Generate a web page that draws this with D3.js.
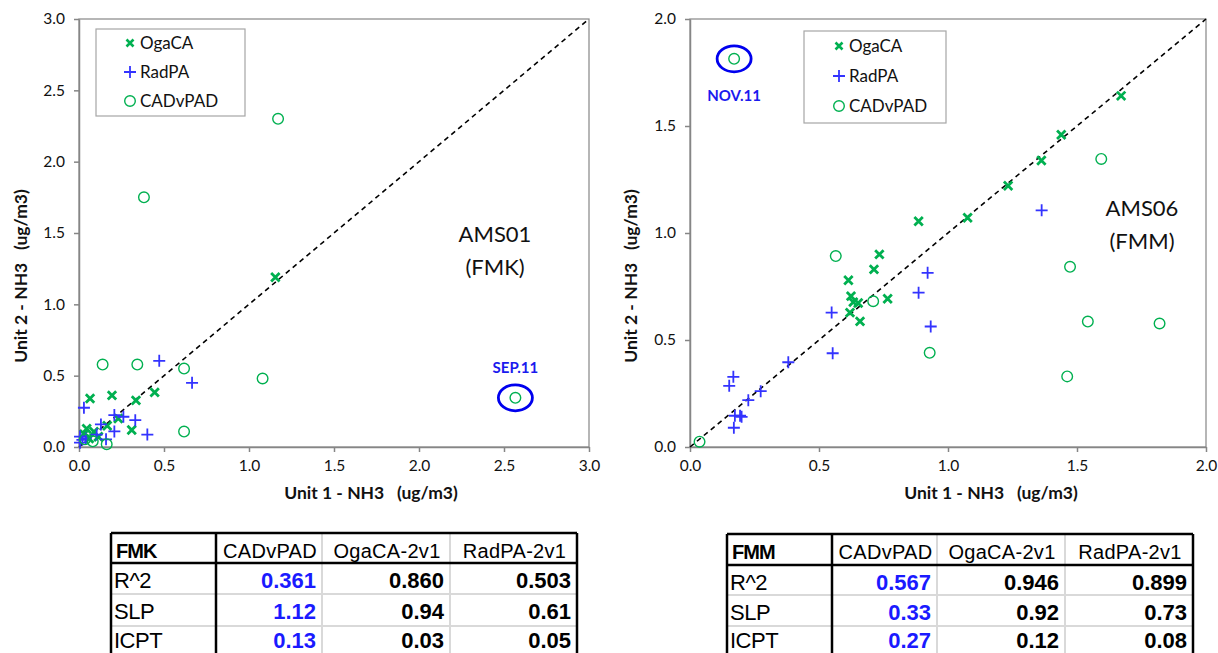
<!DOCTYPE html>
<html><head><meta charset="utf-8">
<script src="https://cdn.jsdelivr.net/npm/d3@7"></script>
<style>
body{margin:0;background:#fff;}
svg{display:block;}
</style></head>
<body><svg id="c" width="1218" height="653"></svg>
<script>
// ---------- DATA ----------
// FMK (AMS01) : [Unit 1, Unit 2]
const fmkOgaCA = [[0.065,0.34],[0.194,0.362],[0.335,0.327],[0.445,0.383],[0.231,0.20],[0.166,0.149],[0.045,0.128],[0.088,0.107],[0.31,0.119],[0.114,0.072],[0.03,0.09],[0.06,0.06],[1.155,1.19]];
const fmkRadPA = [[0.472,0.604],[0.665,0.45],[0.029,0.275],[0.208,0.224],[0.261,0.212],[0.331,0.188],[0.129,0.158],[0.208,0.109],[0.402,0.087],[0.104,0.087],[0.159,0.054],[0.006,0.073],[0.006,0.03],[0.02,0.05],[0.04,0.06]];
const fmkCADvPAD = [[0.139,0.578],[0.343,0.578],[0.618,0.55],[0.618,0.108],[0.035,0.054],[0.081,0.04],[0.163,0.02],[1.171,2.30],[0.382,1.75],[1.08,0.48],[2.567,0.345]];
// FMM (AMS06)
const fmmOgaCA = [[0.734,0.90],[0.713,0.83],[0.614,0.779],[0.624,0.705],[0.633,0.677],[0.652,0.673],[0.62,0.628],[0.659,0.587],[0.766,0.693],[0.886,1.055],[1.076,1.071],[1.233,1.221],[1.362,1.339],[1.439,1.459],[1.671,1.641]];
const fmmRadPA = [[0.921,0.814],[0.886,0.721],[0.933,0.563],[0.549,0.628],[0.553,0.438],[0.381,0.396],[0.274,0.261],[0.226,0.219],[0.168,0.328],[0.152,0.286],[0.174,0.146],[0.194,0.146],[0.2,0.141],[0.17,0.09],[1.363,1.106]];
const fmmCADvPAD = [[0.565,0.892],[0.71,0.681],[0.929,0.44],[0.037,0.025],[1.594,1.346],[1.473,0.842],[1.542,0.586],[1.82,0.577],[1.462,0.33],[0.171,1.814]];

const seriesNames = ["OgaCA","RadPA","CADvPAD"];
const fmkTicks = [0,0.5,1,1.5,2,2.5,3];
const fmmTicks = [0,0.5,1,1.5,2];

const tableHeader = ["CADvPAD","OgaCA-2v1","RadPA-2v1"];
const rowLabels = ["R^2","SLP","ICPT"];
const fmkTable = [["0.361","0.860","0.503"],["1.12","0.94","0.61"],["0.13","0.03","0.05"]];
const fmmTable = [["0.567","0.946","0.899"],["0.33","0.92","0.73"],["0.27","0.12","0.08"]];

// ---------- STYLE ----------
const GREEN = "#00b050", BLUE = "#3333ff", AX = "#868686";
const FONT = "Lato, 'Open Sans', sans-serif";
const TFONT = "'Liberation Sans', Arial, sans-serif";
const svg = d3.select("#c");

function chart(opt){
  const {x0,x1,y0,y1,max,ticks,oga,rad,cad,leg,name,site,nameX,nameY,ann,yTitleX,xTitleDx} = opt;
  const x = d3.scaleLinear().domain([0,max]).range([x0,x1]);
  const y = d3.scaleLinear().domain([0,max]).range([y1,y0]);
  const g = svg.append("g");
  // frame
  g.append("rect").attr("x",x0).attr("y",y0).attr("width",x1-x0).attr("height",y1-y0)
    .attr("fill","none").attr("stroke",AX).attr("stroke-width",1.2);
  const fmt = d3.format(".1f");
  const xa = g.append("g").attr("transform",`translate(0,${y1})`)
    .call(d3.axisBottom(x).tickValues(ticks).tickFormat(fmt).tickSize(5).tickSizeOuter(0).tickPadding(8));
  const ya = g.append("g").attr("transform",`translate(${x0},0)`)
    .call(d3.axisLeft(y).tickValues(ticks).tickFormat(fmt).tickSize(5).tickSizeOuter(0).tickPadding(9));
  [xa,ya].forEach(a=>{
    a.select(".domain").attr("stroke",AX).attr("stroke-width",1.5);
    a.selectAll(".tick line").attr("stroke",AX).attr("stroke-width",1.5);
    a.selectAll(".tick text").attr("font-family",FONT).attr("font-size",15.5).attr("fill","#111");
  });
  // 1:1 line
  g.append("line").attr("x1",x(0)).attr("y1",y(0)).attr("x2",x(max)).attr("y2",y(max))
    .attr("stroke","#000").attr("stroke-width",1.6).attr("stroke-dasharray","5,4");
  // markers
  const xPath = "M-4.2,-4.2L4.2,4.2M-4.2,4.2L4.2,-4.2", pPath = "M-6,0L6,0M0,-6L0,6";
  g.append("g").selectAll("path").data(oga).join("path")
    .attr("d",xPath).attr("transform",d=>`translate(${x(d[0])},${y(d[1])})`)
    .attr("stroke",GREEN).attr("stroke-width",2.8).attr("fill","none");
  g.append("g").selectAll("path").data(rad).join("path")
    .attr("d",pPath).attr("transform",d=>`translate(${x(d[0])},${y(d[1])})`)
    .attr("stroke",BLUE).attr("stroke-width",1.8).attr("fill","none");
  g.append("g").selectAll("circle").data(cad).join("circle")
    .attr("cx",d=>x(d[0])).attr("cy",d=>y(d[1])).attr("r",5.3)
    .attr("stroke",GREEN).attr("stroke-width",1.4).attr("fill","none");
  // annotation ellipse
  const ap = cad[ann.idx];
  g.append("ellipse").attr("cx",x(ap[0])).attr("cy",y(ap[1])).attr("rx",17).attr("ry",13)
    .attr("fill","none").attr("stroke","#0000ee").attr("stroke-width",2.8);
  g.append("text").attr("x",x(ap[0])).attr("y",y(ap[1])+ann.dy).attr("text-anchor","middle")
    .attr("font-family",FONT).attr("font-weight","bold").attr("font-size",15).attr("fill","#1a1aee")
    .text(ann.text);
  // legend
  g.append("rect").attr("x",leg.x).attr("y",leg.y).attr("width",leg.w).attr("height",leg.h)
    .attr("fill","#fff").attr("stroke","#a6a6a6").attr("stroke-width",1.2);
  const lg = g.append("g").selectAll("g").data(seriesNames).join("g")
    .attr("transform",(d,i)=>`translate(${leg.x+leg.mx},${leg.y+leg.r0+i*leg.dy})`);
  lg.append("path").attr("d",(d,i)=>i===0?"M-3.5,-3.5L3.5,3.5M-3.5,3.5L3.5,-3.5":i===1?pPath:null)
    .attr("stroke",(d,i)=>i===0?GREEN:BLUE).attr("stroke-width",(d,i)=>i===0?2.6:1.8).attr("fill","none");
  lg.filter((d,i)=>i===2).append("circle").attr("r",5.3).attr("fill","none").attr("stroke",GREEN).attr("stroke-width",1.4);
  lg.append("text").attr("x",10).attr("dy","0.35em").attr("font-family",FONT).attr("font-size",17)
    .attr("fill","#111").text(d=>d);
  // site label
  const sl = g.append("text").attr("font-family",FONT).attr("font-size",22).attr("fill","#111").attr("text-anchor","middle");
  sl.append("tspan").attr("x",nameX).attr("y",nameY).text(name);
  sl.append("tspan").attr("x",nameX).attr("y",nameY+33).text(site);
  // axis titles
  g.append("text").attr("x",(x0+x1)/2+xTitleDx).attr("y",y1+52).attr("text-anchor","middle")
    .attr("font-family",FONT).attr("font-weight","bold").attr("font-size",17.5).attr("fill","#111")
    .attr("xml:space","preserve").text("Unit 1 - NH3   (ug/m3)");
  g.append("text").attr("transform",`translate(${yTitleX},${(y0+y1)/2+43}) rotate(-90)`).attr("text-anchor","middle")
    .attr("font-family",FONT).attr("font-weight","bold").attr("font-size",17.5).attr("fill","#111")
    .attr("xml:space","preserve").text("Unit 2 - NH3   (ug/m3)");
}

chart({x0:79,x1:589,y0:19,y1:447,max:3,ticks:fmkTicks,oga:fmkOgaCA,rad:fmkRadPA,cad:fmkCADvPAD,
  leg:{x:96,y:29,w:149,h:87,mx:34,r0:14,dy:29},name:"AMS01",site:"(FMK)",nameX:495,nameY:242,
  ann:{idx:10,text:"SEP.11",dy:-25},yTitleX:27,xTitleDx:37});
chart({x0:690,x1:1206,y0:19,y1:447,max:2,ticks:fmmTicks,oga:fmmOgaCA,rad:fmmRadPA,cad:fmmCADvPAD,
  leg:{x:804,y:31,w:142,h:92,mx:35,r0:15,dy:30},name:"AMS06",site:"(FMM)",nameX:1142,nameY:216,
  ann:{idx:9,text:"NOV.11",dy:42},yTitleX:637,xTitleDx:43});

// ---------- TABLES ----------
function table(t){
  const {left,top,cols,rows,title,vals} = t;
  const g = svg.append("g");
  const right = cols[cols.length-1], bottom = 670;
  // light grid
  for(let i=2;i<cols.length-1;i++) g.append("line").attr("x1",cols[i]).attr("x2",cols[i]).attr("y1",top).attr("y2",bottom).attr("stroke","#d9d9d9").attr("stroke-width",2);
  for(let j=1;j<rows.length;j++) g.append("line").attr("x1",left).attr("x2",right).attr("y1",rows[j]).attr("y2",rows[j]).attr("stroke","#d9d9d9").attr("stroke-width",2);
  // black borders
  const bk = (x1,y1,x2,y2)=>g.append("line").attr("x1",x1).attr("y1",y1).attr("x2",x2).attr("y2",y2).attr("stroke","#000").attr("stroke-width",2.5);
  bk(left,top,right,top); bk(left,top,left,bottom); bk(right,top,right,bottom);
  bk(left,rows[0],right,rows[0]); bk(cols[1],top,cols[1],bottom);
  // header
  g.append("text").attr("x",left+5).attr("y",top+25).attr("font-family",TFONT).attr("font-weight","bold")
    .attr("font-size",20).attr("letter-spacing","-1px").attr("fill","#000").text(title);
  tableHeader.forEach((h,i)=>{
    g.append("text").attr("x",(cols[i+1]+cols[i+2])/2+1).attr("y",top+25).attr("text-anchor","middle")
      .attr("font-family",TFONT).attr("font-size",20).attr("letter-spacing","0.3px").attr("fill","#000").text(h);
  });
  rowLabels.forEach((r,j)=>{
    const by = rows[j]+(j===2?22:25);
    g.append("text").attr("x",left+3).attr("y",by).attr("font-family",TFONT).attr("font-size",22)
      .attr("letter-spacing","-0.5px").attr("fill","#000").text(r);
    vals[j].forEach((v,i)=>{
      g.append("text").attr("x",cols[i+2]-6).attr("y",by).attr("text-anchor","end")
        .attr("font-family",TFONT).attr("font-weight","bold").attr("font-size",22)
        .attr("fill",i===0?"#1a1aff":"#000").text(v);
    });
  });
}
table({left:111,top:533,cols:[111,216,322,450,577],rows:[563,594,626],title:"FMK",vals:fmkTable});
table({left:727,top:534,cols:[727,832,937,1065,1193],rows:[565,595,626],title:"FMM",vals:fmmTable});
</script>
</body></html>
